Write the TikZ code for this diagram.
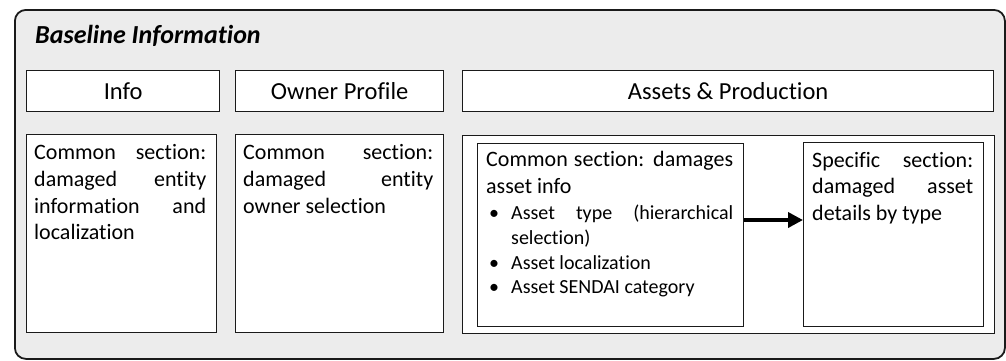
\documentclass[tikz,border=0pt]{standalone}
\usepackage{fontspec}
\setmainfont{Carlito}[Ligatures={NoCommon,NoContextual}]
\usetikzlibrary{arrows.meta}
\setlength\parindent{0pt}
\hyphenpenalty=10000
\exhyphenpenalty=10000
\newcommand\bodysize{\fontsize{22}{26.7}\selectfont}
\newcommand\headsize{\fontsize{24.5}{29}\selectfont}
\newcommand\itemsize{\fontsize{20}{24.6}\selectfont}
\newcommand\titlesize{\fontsize{26}{30}\selectfont}
% one bulleted entry with a hanging indent
\newcommand\bulletitem[1]{{\itemsize\hangindent=25pt\hangafter=0\noindent\llap{\makebox[22pt][l]{\textbullet}}#1\par}}
\definecolor{panelgray}{HTML}{ECECEC}
\definecolor{ink}{HTML}{1A1A1A}

\begin{document}
\begin{tikzpicture}[x=1pt,y=-1pt,
  panel/.style={draw=ink, line width=1.8pt, fill=panelgray, rounded corners=11pt,
    inner sep=0pt, anchor=north west},
  box/.style={draw=ink, line width=1.3pt, fill=white, inner sep=0pt, anchor=north west},
  headbox/.style={box, minimum height=41pt, font=\headsize},
  txt/.style={anchor=north west, inner sep=0pt, align=justify, font=\bodysize},
  flow/.style={draw=black, line width=3.6pt, -{Triangle[length=15pt,width=15pt]}}]
\useasboundingbox (0,0) rectangle (1006,360);

% grey frame and its title
\node[panel, minimum width=990pt, minimum height=349pt] (frame) at (14,9) {};
\node[anchor=base west, inner sep=0pt, font=\titlesize\bfseries\itshape] (title) at (35,43) {Baseline Information};

% section headers
\node[headbox, minimum width=193pt] (infoHead) at (26,70) {Info};
\node[headbox, minimum width=208pt] (ownerHead) at (235,70) {Owner Profile};
\node[headbox, minimum width=531pt] (assetHead) at (462,70) {Assets \& Production};

% section contents
\node[box, minimum width=190pt, minimum height=198pt] (infoBox) at (26,134) {};
\node[txt, text width=172pt] (infoText) at (34,140.8)
  {\strut Common section:\linebreak damaged entity\linebreak information and\linebreak localization};

\node[box, minimum width=208pt, minimum height=198pt] (ownerBox) at (235,134) {};
\node[txt, text width=190pt] (ownerText) at (243,140.8)
  {\strut Common section:\linebreak damaged entity\linebreak owner selection};

\node[box, minimum width=532pt, minimum height=198pt] (assetBox) at (462,135) {};

\node[box, minimum width=266pt, minimum height=183pt] (commonBox) at (477,143) {};
\node[txt, text width=247pt] (commonText) at (486,147.8)
  {\strut Common section: damages\linebreak asset info\par\vspace{2pt}
   \bulletitem{Asset type (hierarchical\linebreak selection)}
   \bulletitem{Asset localization}
   \bulletitem{Asset SENDAI category}};

\node[box, minimum width=180pt, minimum height=184pt] (specificBox) at (803,142) {};
\node[txt, text width=161pt] (specificText) at (812,148.3)
  {\strut Specific section:\linebreak damaged asset\linebreak details by type};

% flow from the common part to the specific part
\draw[flow] (commonBox.east |- 0,220) -- (specificBox.west |- 0,220);
\end{tikzpicture}
\end{document}
